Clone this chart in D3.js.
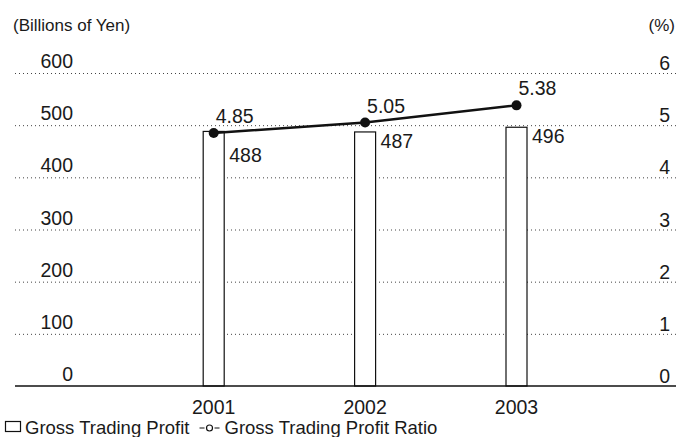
<!DOCTYPE html>
<html><head><meta charset="utf-8">
<script src="https://cdn.jsdelivr.net/npm/d3@7"></script>
<style>
html,body{margin:0;padding:0;background:#fff;}
svg text{font-family:"Liberation Sans",Arial,Helvetica,sans-serif;fill:#1a1a1a;}
</style></head>
<body><svg id="c" width="677" height="437"></svg>
<script>
const years = ["2001", "2002", "2003"];
const profit = [488, 487, 496];
const ratio = [4.85, 5.05, 5.38];
const ratioLabels = ["4.85", "5.05", "5.38"];
const leftTicks = [0, 100, 200, 300, 400, 500, 600];
const rightTicks = [0, 1, 2, 3, 4, 5, 6];

const svg = d3.select("#c");
const x = d3.scalePoint().domain(years).range([213.7, 516.5]);
const yL = d3.scaleLinear().domain([0, 600]).range([386, 73]);
const yR = d3.scaleLinear().domain([0, 6]).range([386, 73]);
const x0 = 15, x1 = 676;

// gridlines
svg.append("g").selectAll("line").data(leftTicks.filter(d => d > 0)).join("line")
  .attr("x1", x0).attr("x2", x1)
  .attr("y1", d => yL(d) + 0.5).attr("y2", d => yL(d) + 0.5)
  .attr("stroke", "#444").attr("stroke-width", 1).attr("stroke-dasharray", "1,3");

const fs = 19.5;
svg.append("g").selectAll("text").data(leftTicks).join("text")
  .attr("x", 73).attr("y", d => yL(d) - 5)
  .attr("text-anchor", "end").attr("font-size", fs).text(d => d);
svg.append("g").selectAll("text").data(rightTicks).join("text")
  .attr("x", 670).attr("y", d => yR(d) - 3)
  .attr("text-anchor", "end").attr("font-size", fs).text(d => d);

svg.append("text").attr("x", 13).attr("y", 31).attr("font-size", 17).text("(Billions of Yen)");
svg.append("text").attr("x", 675).attr("y", 31).attr("text-anchor", "end").attr("font-size", 17).text("(%)");

// bars
const bw = 21;
svg.append("g").selectAll("rect").data(profit).join("rect")
  .attr("x", (d, i) => x(years[i]) - bw / 2).attr("width", bw)
  .attr("y", d => yL(d)).attr("height", d => yL(0) - yL(d))
  .attr("fill", "#fff").attr("stroke", "#111").attr("stroke-width", 1.2);

svg.append("line").attr("x1", x0).attr("x2", x1).attr("y1", yL(0)).attr("y2", yL(0))
  .attr("stroke", "#111").attr("stroke-width", 1.6);

// bar labels
const barLabelDy = [31, 16, 16];
svg.append("g").selectAll("text").data(profit).join("text")
  .attr("x", (d, i) => x(years[i]) + bw / 2 + 5)
  .attr("y", (d, i) => yL(d) + barLabelDy[i])
  .attr("font-size", fs).text(d => d);

// line
const line = d3.line().x((d, i) => x(years[i])).y(d => yR(d));
svg.append("path").datum(ratio).attr("d", line)
  .attr("fill", "none").attr("stroke", "#111").attr("stroke-width", 2.4);
svg.append("g").selectAll("circle").data(ratio).join("circle")
  .attr("cx", (d, i) => x(years[i])).attr("cy", d => yR(d)).attr("r", 5)
  .attr("fill", "#111");
svg.append("g").selectAll("text").data(ratio).join("text")
  .attr("x", (d, i) => x(years[i]) + 2).attr("y", d => yR(d) - 10)
  .attr("font-size", fs).text((d, i) => ratioLabels[i]);

// year labels
svg.append("g").selectAll("text").data(years).join("text")
  .attr("x", d => x(d)).attr("y", 414).attr("text-anchor", "middle")
  .attr("font-size", fs).text(d => d);

// legend
const lfs = 18.5;
const lg = svg.append("g");
lg.append("rect").attr("x", 5.5).attr("y", 421.5).attr("width", 15).attr("height", 10)
  .attr("fill", "#fff").attr("stroke", "#111").attr("stroke-width", 1.2);
const t1 = lg.append("text").attr("x", 25).attr("y", 434).attr("font-size", lfs).text("Gross Trading Profit");
const e1 = 25 + t1.node().getComputedTextLength();
const mx = e1 + 20;
lg.append("line").attr("x1", mx - 10).attr("x2", mx + 10).attr("y1", 428).attr("y2", 428)
  .attr("stroke", "#111").attr("stroke-width", 1.2).attr("stroke-dasharray", "5,10");
lg.append("circle").attr("cx", mx).attr("cy", 428).attr("r", 3)
  .attr("fill", "#fff").attr("stroke", "#111").attr("stroke-width", 1.2);
lg.append("text").attr("x", mx + 15).attr("y", 434).attr("font-size", lfs).text("Gross Trading Profit Ratio");
</script></body></html>
